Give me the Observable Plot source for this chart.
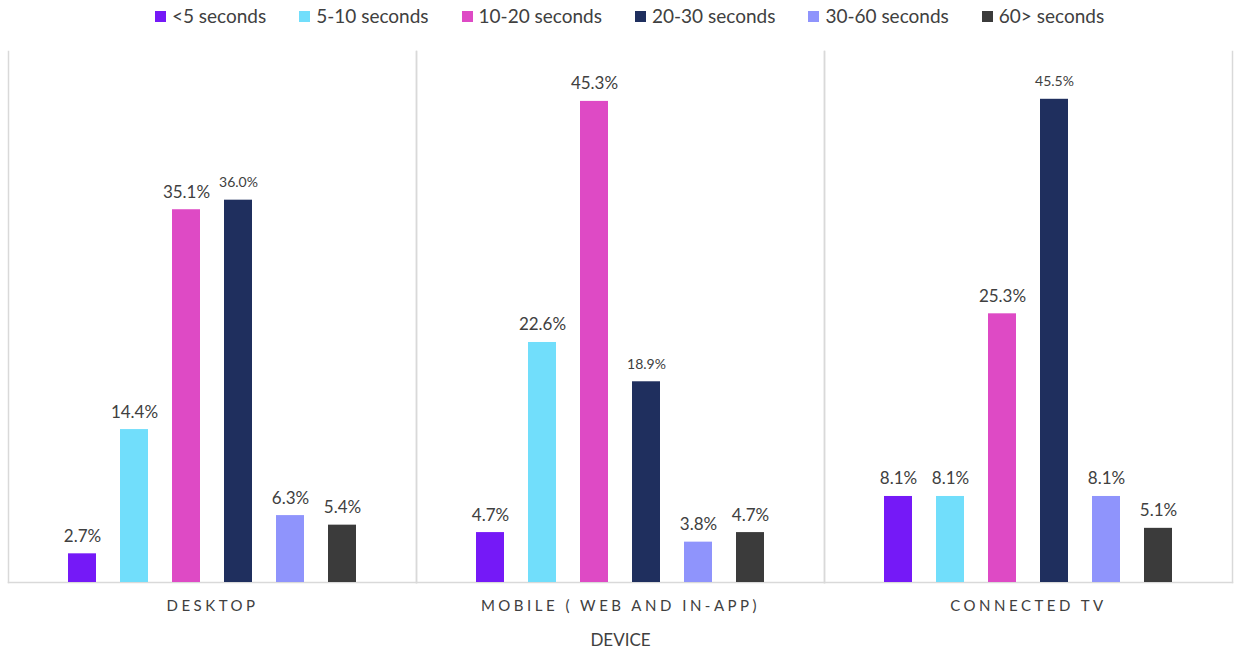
<!DOCTYPE html>
<html><head><meta charset="utf-8">
<script src="https://cdn.jsdelivr.net/npm/d3@7"></script>
<script src="https://cdn.jsdelivr.net/npm/@observablehq/plot@0.6"></script>
<style>
body{margin:0;background:#fff;font-family:Lato,"Open Sans",sans-serif;}
#legend{height:36px;display:flex;justify-content:center;align-items:flex-start;padding-top:4px;gap:33px;font-size:19px;line-height:24px;color:#404040;padding-left:22px;box-sizing:border-box;}
#legend span.sw{display:inline-block;width:11px;height:11px;margin-right:6px;vertical-align:middle;position:relative;top:-2px}
g[aria-label="fx-axis tick label"] text{letter-spacing:3.5px}
</style></head>
<body>
<div id="legend"></div>
<div id="chart"></div>
<script>
const devices = ["DESKTOP", "MOBILE ( WEB AND IN-APP)", "CONNECTED TV"];
const series = ["<5 seconds", "5-10 seconds", "10-20 seconds", "20-30 seconds", "30-60 seconds", "60> seconds"];
const colors = ["#7519F7", "#71DEFB", "#DE4AC5", "#1F2F5E", "#8F94FC", "#3B3B3B"];
const desktop = [2.7, 14.4, 35.1, 36.0, 6.3, 5.4];
const mobile = [4.7, 22.6, 45.3, 18.9, 3.8, 4.7];
const connectedTv = [8.1, 8.1, 25.3, 45.5, 8.1, 5.1];

const valuesByDevice = [desktop, mobile, connectedTv];
const data = [];
devices.forEach((d, i) => series.forEach((s, j) => data.push({device: d, series: s, value: valuesByDevice[i][j]})));

const legend = document.getElementById("legend");
series.forEach((s, j) => {
  const item = document.createElement("div");
  item.innerHTML = `<span class="sw" style="background:${colors[j]}"></span>${s.replace("<","&lt;").replace(">","&gt;")}`;
  legend.appendChild(item);
});

const big = data.filter(d => d.series !== "20-30 seconds");
const small = data.filter(d => d.series === "20-30 seconds");

const chart = Plot.plot({
  width: 1237,
  height: 618,
  marginLeft: 7,
  marginRight: 5,
  marginTop: 15,
  marginBottom: 72,
  style: {fontFamily: "Lato, 'Open Sans', sans-serif", color: "#404040"},
  fx: {domain: devices, padding: 0, label: "DEVICE"},
  x: {domain: series, paddingInner: 0.46, paddingOuter: 1.15, axis: null},
  y: {domain: [0, 50], axis: null},
  color: {domain: series, range: colors},
  marks: [
    Plot.frame({anchor: "left", stroke: "#d9d9d9", strokeWidth: 1.5, strokeOpacity: 1}),
    Plot.frame({anchor: "right", stroke: "#d9d9d9", strokeWidth: 1.5, strokeOpacity: 1}),
    Plot.frame({anchor: "bottom", stroke: "#d9d9d9", strokeWidth: 1.5, strokeOpacity: 1}),
    Plot.barY(data, {fx: "device", x: "series", y: "value", fill: "series"}),
    Plot.text(big, {fx: "device", x: "series", y: "value", text: d => d.value.toFixed(1) + "%", lineAnchor: "bottom", dy: -12, fontSize: 17, fill: "#404040"}),
    Plot.text(small, {fx: "device", x: "series", y: "value", text: d => d.value.toFixed(1) + "%", lineAnchor: "bottom", dy: -13, fontSize: 14, fill: "#404040"}),
    Plot.axisFx({anchor: "bottom", tickSize: 0, tickPadding: 18, fontSize: 15, label: "DEVICE", labelAnchor: "center", labelArrow: "none", labelOffset: 63})
  ]
});
document.getElementById("chart").appendChild(chart);
const lab = chart.querySelector('g[aria-label="fx-axis label"] text');
if (lab) { lab.setAttribute("font-size", "17"); }
</script>
</body></html>
